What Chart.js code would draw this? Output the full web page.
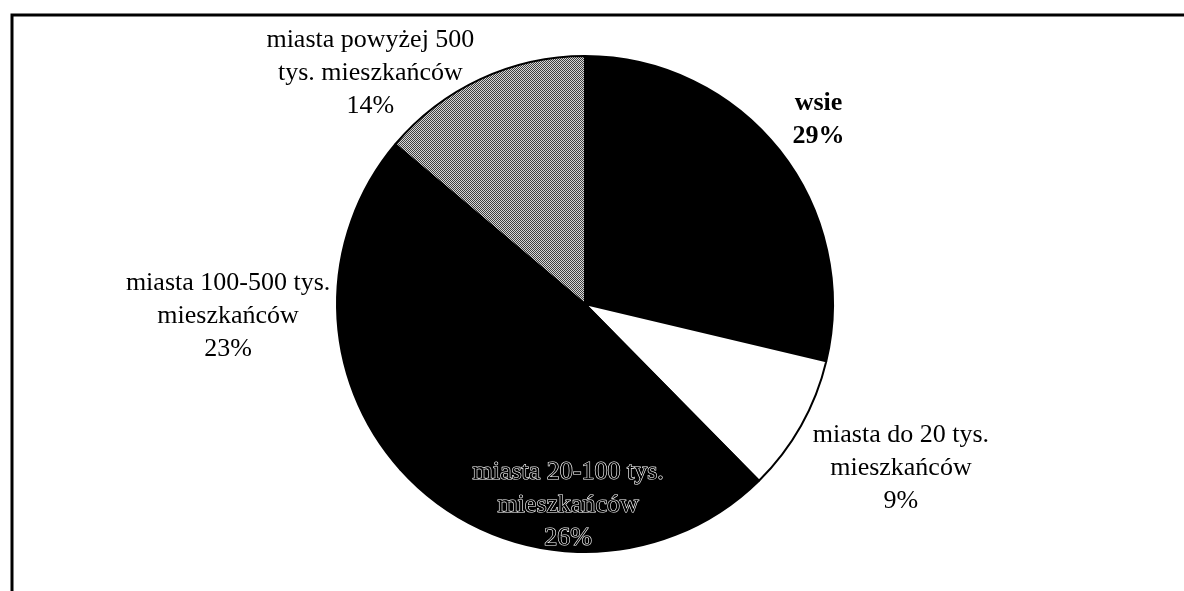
<!DOCTYPE html>
<html>
<head>
<meta charset="utf-8">
<script src="https://cdn.jsdelivr.net/npm/chart.js@4.4.1/dist/chart.umd.min.js"></script>
<style>
    html, body { margin: 0; padding: 0; background: #ffffff; }
    #wrap { width: 1184px; height: 591px; }
</style>
</head>
<body>
<div id="wrap"><canvas id="pie-chart" width="1184" height="591"></canvas></div>
<script>
// categories (label lines) and shares in %
const categoryLines = [
    ['wsie'],
    ['miasta do 20 tys.', 'mieszkańców'],
    ['miasta 20-100 tys.', 'mieszkańców'],
    ['miasta 100-500 tys.', 'mieszkańców'],
    ['miasta powyżej 500', 'tys. mieszkańców']
];
const shares = [29, 9, 26, 23, 14];

// label placement: distance (in radii) and angle shift (deg) from the slice middle
const labelDistance = [1.2, 1.435, 0.815, 1.44, 1.27];
const labelShift = [0, -2, 3, -1, -18];

function makeDither() {
    const c = document.createElement('canvas');
    c.width = 4;
    c.height = 4;
    const g = c.getContext('2d');
    g.fillStyle = '#d8d8d8';
    g.fillRect(0, 0, 4, 4);
    g.fillStyle = '#404040';
    const dots = [[0, 0], [2, 0], [1, 1], [3, 1], [0, 2], [2, 2], [1, 3], [3, 3]];
    dots.forEach(d => g.fillRect(d[0], d[1], 1, 1));
    return g.createPattern(c, 'repeat');
}

const framePlugin = {
    id: 'frame',
    beforeDraw(chart) {
        const ctx = chart.ctx;
        ctx.save();
        ctx.fillStyle = '#ffffff';
        ctx.fillRect(0, 0, chart.width, chart.height);
        ctx.strokeStyle = '#000000';
        ctx.lineWidth = 3;
        ctx.beginPath();
        ctx.moveTo(12, chart.height + 5);
        ctx.lineTo(12, 15);
        ctx.lineTo(chart.width + 5, 15);
        ctx.stroke();
        ctx.restore();
    }
};

const labelPlugin = {
    id: 'sliceLabels',
    afterDatasetsDraw(chart) {
        const ctx = chart.ctx;
        const arcs = chart.getDatasetMeta(0).data;
        ctx.save();
        ctx.textAlign = 'center';
        ctx.textBaseline = 'middle';
        arcs.forEach((arc, i) => {
            const mid = (arc.startAngle + arc.endAngle) / 2 + labelShift[i] * Math.PI / 180;
            const d = arc.outerRadius * labelDistance[i];
            const cx = arc.x + Math.cos(mid) * d;
            const cy = arc.y + Math.sin(mid) * d;
            const lines = categoryLines[i].concat([shares[i] + '%']);
            const lh = 33;
            ctx.font = (i === 0 ? 'bold ' : '') + '26px "Liberation Serif", "Times New Roman", serif';
            lines.forEach((t, k) => {
                const y = cy + (k - (lines.length - 1) / 2) * lh;
                if (i === 2) {
                    ctx.strokeStyle = '#ffffff';
                    ctx.lineWidth = 1.2;
                    ctx.strokeText(t, cx, y);
                    ctx.fillStyle = '#000000';
                    ctx.fillText(t, cx, y);
                } else {
                    ctx.fillStyle = '#000000';
                    ctx.fillText(t, cx, y);
                }
            });
        });
        ctx.restore();
    }
};

new Chart(document.getElementById('pie-chart'), {
    type: 'pie',
    data: {
        labels: categoryLines.map(l => l.join(' ')),
        datasets: [{
            data: shares,
            backgroundColor: ['#000000', '#ffffff', '#000000', '#000000', makeDither()],
            borderColor: '#000000',
            borderWidth: 2
        }]
    },
    options: {
        responsive: false,
        animation: false,
        layout: { padding: { top: 55, bottom: 38, left: 0, right: 14 } },
        plugins: {
            legend: { display: false },
            tooltip: { enabled: false }
        }
    },
    plugins: [framePlugin, labelPlugin]
});
</script>
</body>
</html>
